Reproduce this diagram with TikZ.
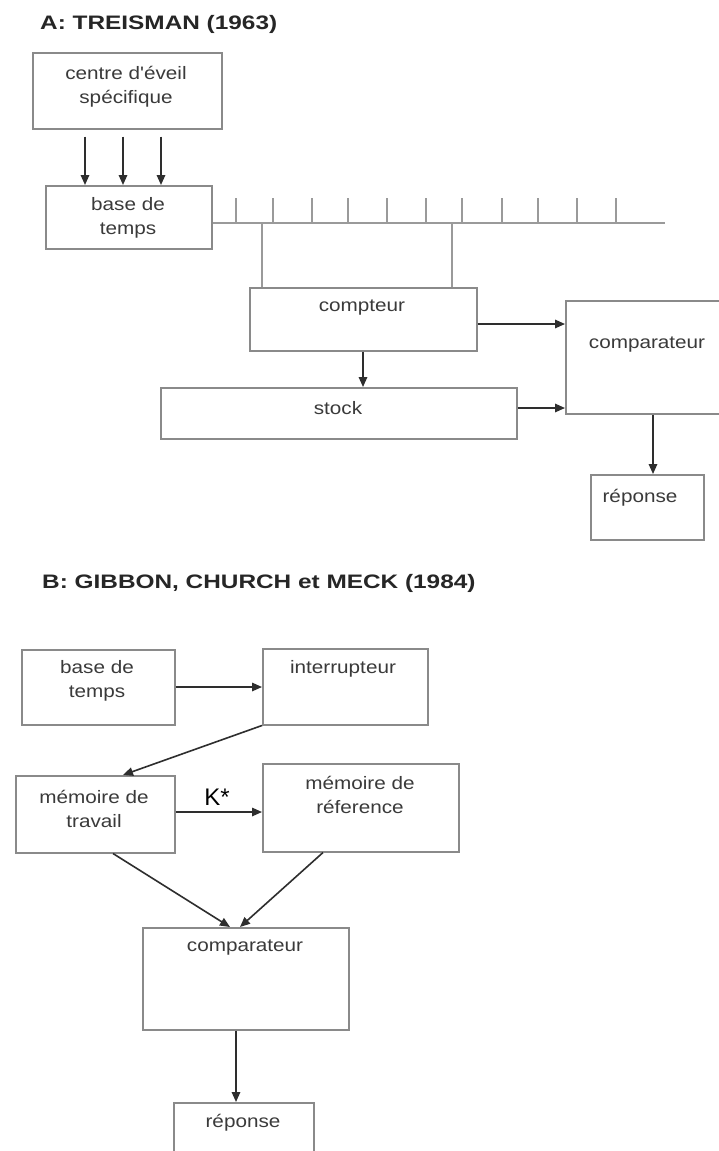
\documentclass[tikz,border=0pt]{standalone}
\usepackage{fontspec}
\setmainfont{Liberation Sans}
\newfontfamily\bodyfont[FakeStretch=1.15]{Liberation Sans}
\newfontfamily\titlefont[FakeStretch=1.25]{Liberation Sans}
\usetikzlibrary{arrows.meta}
\definecolor{boxline}{HTML}{8A8A8A}
\definecolor{tickline}{HTML}{9A9A9A}
\definecolor{arrcol}{HTML}{2E2E2E}
\definecolor{txtcol}{HTML}{3A3A3A}
\definecolor{titlecol}{HTML}{262626}
\tikzset{
  box/.style={draw=boxline, line width=1.5pt, inner sep=0pt, anchor=north west},
  txt/.style={text=txtcol, font=\bodyfont\fontsize{18}{24}\selectfont, align=center, inner sep=0pt},
  ttl/.style={text=titlecol, font=\titlefont\bfseries\fontsize{19.5}{24}\selectfont, inner sep=0pt, anchor=base west},
  tickln/.style={draw=tickline, line width=1.4pt},
  arr/.style={draw=arrcol, line width=1.6pt, -{Triangle[length=10pt,width=8.5pt]}},
  klabel/.style={text=black, font=\fontsize{24}{28}\selectfont, inner sep=0pt}
}
\begin{document}
\begin{tikzpicture}[x=1pt,y=-1pt]
\useasboundingbox[fill=white] (0,0) rectangle (719,1151);

% ---------- A ----------
\node[ttl] (titleA) at (40,29) {A: TREISMAN (1963)};

\node[box, minimum width=189pt, minimum height=76pt] (eveil) at (32,52) {};
\node[txt] (teveil) at (126,87) {centre d'éveil\\spécifique};

\node[box, minimum width=166pt, minimum height=63pt] (baseA) at (45,185) {};
\node[txt] (tbaseA) at (128,218) {base de\\temps};

\foreach \x in {85,123,161}
  \draw[arr, shorten <=7pt] (\x,0 |- eveil.south) -- (\x,0 |- baseA.north);

\coordinate (tlend) at (665,223);
\draw[tickln] (baseA.east |- tlend) -- (tlend);
\foreach \x in {236,273,312,348,387,426,462,502,538,577,616}
  \draw[tickln] (\x,0 |- tlend) -- ++(0,-25);

\node[box, minimum width=227pt, minimum height=63pt] (compteur) at (249,287) {};
\node[txt] (tcompteur) at (362,308) {compteur};

\draw[tickln] (262,0 |- tlend) -- (262,0 |- compteur.north);
\draw[tickln] (452,0 |- tlend) -- (452,0 |- compteur.north);

\node[box, minimum width=190pt, minimum height=113pt] (compA) at (565,300) {};
\node[txt] (tcompA) at (647,345) {comparateur};

\node[box, minimum width=356pt, minimum height=51pt] (stock) at (160,387) {};
\node[txt] (tstock) at (338,408) {stock};

\node[box, minimum width=113pt, minimum height=65pt] (repA) at (590,474) {};
\node[txt] (trepA) at (640,498) {réponse};

\draw[arr] (363,0 |- compteur.south) -- (363,0 |- stock.north);
\draw[arr] (compteur.east |- 0,324) -- (compA.west |- 0,324);
\draw[arr] (stock.east |- 0,408) -- (compA.west |- 0,408);
\draw[arr] (653,0 |- compA.south) -- (653,0 |- repA.north);

% ---------- B ----------
\node[ttl] (titleB) at (42,588) {B: GIBBON, CHURCH et MECK (1984)};

\node[box, minimum width=153pt, minimum height=75pt] (baseB) at (21,649) {};
\node[txt] (tbaseB) at (97,681) {base de\\temps};

\node[box, minimum width=165pt, minimum height=76pt] (interr) at (262,648) {};
\node[txt] (tinterr) at (343,669) {interrupteur};

\node[box, minimum width=159pt, minimum height=77pt] (memtrav) at (15,775) {};
\node[txt] (tmemtrav) at (94,809) {mémoire de\\travail};

\node[box, minimum width=196pt, minimum height=88pt] (memref) at (262,763) {};
\node[txt] (tmemref) at (360,795) {mémoire de\\réference};

\node[box, minimum width=206pt, minimum height=102pt] (compB) at (142,927) {};
\node[txt] (tcompB) at (245,948) {comparateur};

\node[box, minimum width=140pt, minimum height=80pt] (repB) at (173,1102) {};
\node[txt] (trepB) at (243,1123) {réponse};

\draw[arr] (baseB.east |- 0,687) -- (interr.west |- 0,687);
\draw[arr] (interr.south west) -- (123,0 |- memtrav.north);
\draw[arr] (memtrav.east |- 0,812) -- (memref.west |- 0,812);
\node[klabel] (kstar) at (217,797) {K*};
\draw[arr] (113,0 |- memtrav.south) -- (230,0 |- compB.north);
\draw[arr] (323,0 |- memref.south) -- (240,0 |- compB.north);
\draw[arr] (236,0 |- compB.south) -- (236,0 |- repB.north);
\end{tikzpicture}
\end{document}
